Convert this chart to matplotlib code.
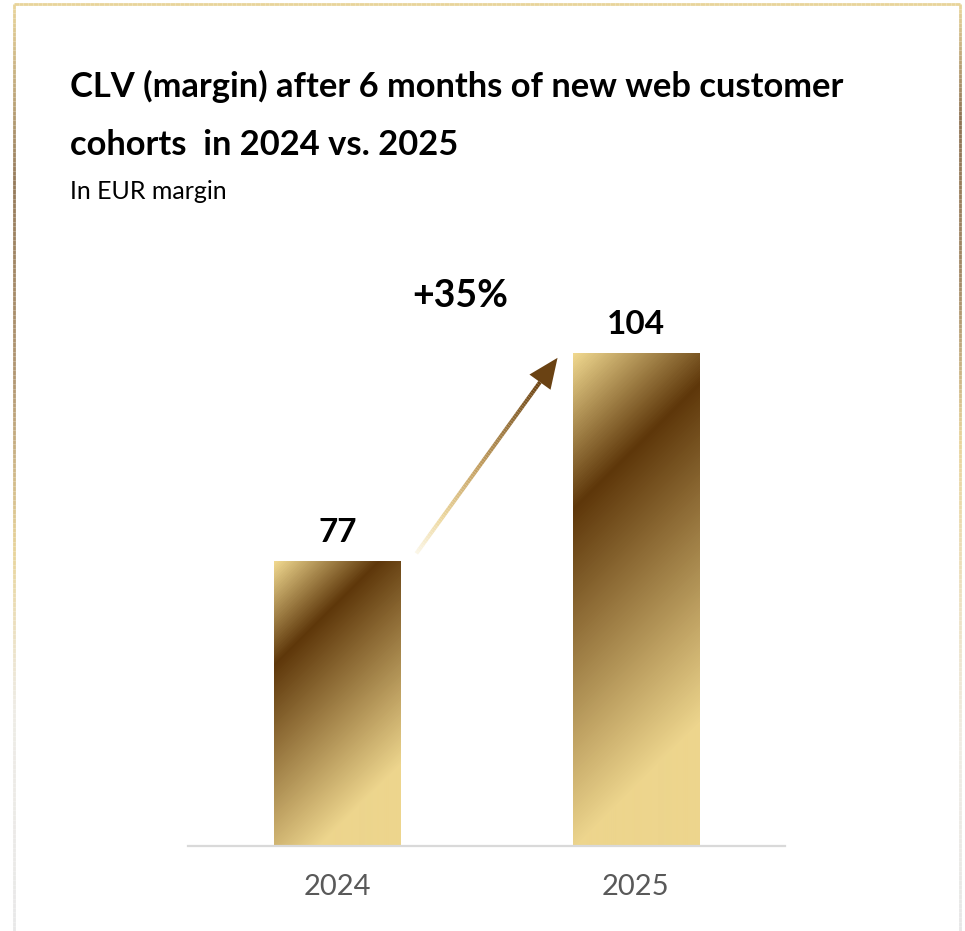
import numpy as np
import matplotlib.pyplot as plt
from matplotlib.colors import LinearSegmentedColormap
from matplotlib.collections import LineCollection
from matplotlib.patches import Polygon

# --- Data ---
years = ["2024", "2025"]
clv_margin = [77, 104]
growth_label = "+35%"
title_lines = ["CLV (margin) after 6 months of new web customer",
               "cohorts  in 2024 vs. 2025"]
subtitle = "In EUR margin"

# --- Canvas ---
W, H, DPI = 965, 931, 100
plt.rcParams["font.family"] = ["Lato", "DejaVu Sans"]
fig = plt.figure(figsize=(W / DPI, H / DPI), dpi=DPI)
fig.patch.set_facecolor("white")


def fx(x):
    return x / W


def fy(y):
    return 1 - y / H


# plot area (value axis starts at 40 EUR)
y_floor = 40
px_per_eur = 7.7
ax_left, ax_right, ax_top, ax_bottom = 188, 785, 300, 846
ax = fig.add_axes([fx(ax_left), fy(ax_bottom),
                   (ax_right - ax_left) / W, (ax_bottom - ax_top) / H])
ax.set_xlim(-0.5, 1.5)
ax.set_ylim(y_floor, y_floor + (ax_bottom - ax_top) / px_per_eur)
ax.set_facecolor("none")

for s in ["top", "left", "right"]:
    ax.spines[s].set_visible(False)
ax.spines["bottom"].set_color("#D9D9D9")
ax.spines["bottom"].set_linewidth(1.6)
ax.set_yticks([])
ax.set_xticks(range(len(years)), years)
ax.tick_params(axis="x", length=0, pad=20, labelsize=21, labelcolor="#595959")

# --- Gold gradient bars ---
gold = LinearSegmentedColormap.from_list(
    "gold", [(0.0, "#F0D88F"), (0.25, "#5E370A"), (0.8, "#EDD58D"), (1.0, "#EDD58D")])

bar_w = 0.423
x = np.arange(len(years))
heights = np.array(clv_margin) - y_floor
bars = ax.bar(x, heights, width=bar_w, bottom=y_floor, color="none", edgecolor="none")

px_per_x = (ax_right - ax_left) / 2.0
for rect, val in zip(bars, clv_margin):
    x0, w = rect.get_x(), rect.get_width()
    w_px = int(round(w * px_per_x))
    h_px = int(round((val - y_floor) * px_per_eur))
    xx, yy = np.meshgrid(np.arange(w_px), np.arange(h_px))
    t = (xx + yy) / float(w_px + h_px)
    im = ax.imshow(t, cmap=gold, vmin=0, vmax=1, origin="upper",
                   extent=(x0, x0 + w, y_floor, val), aspect="auto",
                   interpolation="bilinear", zorder=2)
    im.set_clip_path(rect)
    ax.annotate(f"{val}", (rect.get_x() + w / 2, val), xytext=(0, 14),
                textcoords="offset points", ha="center", va="baseline",
                fontsize=24, fontweight="bold", color="black")

# --- Growth arrow with fading shaft ---
fig.canvas.draw()
tail = ax.transData.transform((0.265, 78.0))
head = ax.transData.transform((0.738, 103.4))
vec = head - tail
unit = vec / np.hypot(*vec)
normal = np.array([-unit[1], unit[0]])
head_len, head_half = 30, 13
base = head - unit * head_len

n = 80
pts = tail + np.outer(np.linspace(0, 1, n + 1), base - tail)
segs = np.stack([pts[:-1], pts[1:]], axis=1)
inv = ax.transData.inverted()
segs_data = np.array([inv.transform(s) for s in segs])
shaft_cmap = LinearSegmentedColormap.from_list(
    "shaft", [(0.0, "#FBF6E6"), (0.2, "#EDD8A0"), (0.5, "#C4A062"),
              (0.8, "#906B36"), (1.0, "#6E4514")])
lc = LineCollection(segs_data, colors=shaft_cmap(np.linspace(0, 1, n)),
                    linewidths=2.9, capstyle="butt", zorder=3)
ax.add_collection(lc)
tri = np.array([head, base + normal * head_half, base - normal * head_half])
ax.add_patch(Polygon(inv.transform(tri), closed=True, facecolor="#6A4213",
                     edgecolor="none", zorder=3))

fig.text(fx(460), fy(307), growth_label, ha="center", va="baseline",
         fontsize=27, fontweight="bold", color="black")

# --- Titles ---
fig.text(fx(70), fy(97), title_lines[0], ha="left", va="baseline",
         fontsize=24.8, fontweight="bold", color="black")
fig.text(fx(70), fy(155), title_lines[1], ha="left", va="baseline",
         fontsize=24.8, fontweight="bold", color="black")
fig.text(fx(70), fy(199), subtitle, ha="left", va="baseline",
         fontsize=18, color="black")

# --- Frame with gold fade ---
def gradient_line(x0, y0, x1, y1, stops, lw=2.0, n=200):
    t = np.linspace(0, 1, n + 1)
    xs = x0 + (x1 - x0) * t
    ys = y0 + (y1 - y0) * t
    pts = np.column_stack([fx(xs), fy(ys)])
    segs = np.stack([pts[:-1], pts[1:]], axis=1)
    cmap = LinearSegmentedColormap.from_list("edge", stops)
    fig.add_artist(LineCollection(segs, colors=cmap((t[:-1] + t[1:]) / 2),
                                  linewidths=lw, transform=fig.transFigure))


gradient_line(14, 4, 960, 4, [(0, "#E8D49A"), (1, "#E8D49A")])
gradient_line(14, 4, 14, 931, [(0.0, "#E8D49A"), (0.19, "#957A5A"),
                               (0.41, "#B39873"), (0.59, "#E8D49A"),
                               (0.76, "#EEEBE5"), (1.0, "#E8E8E8")])
gradient_line(960, 4, 960, 931, [(0.0, "#E8D49A"), (0.12, "#8E7253"),
                                 (0.3, "#A48A67"), (0.47, "#E8D39A"),
                                 (0.8, "#EFEBE3"), (1.0, "#E6E6E6")])

fig.savefig("out.png", dpi=DPI, facecolor="white")
